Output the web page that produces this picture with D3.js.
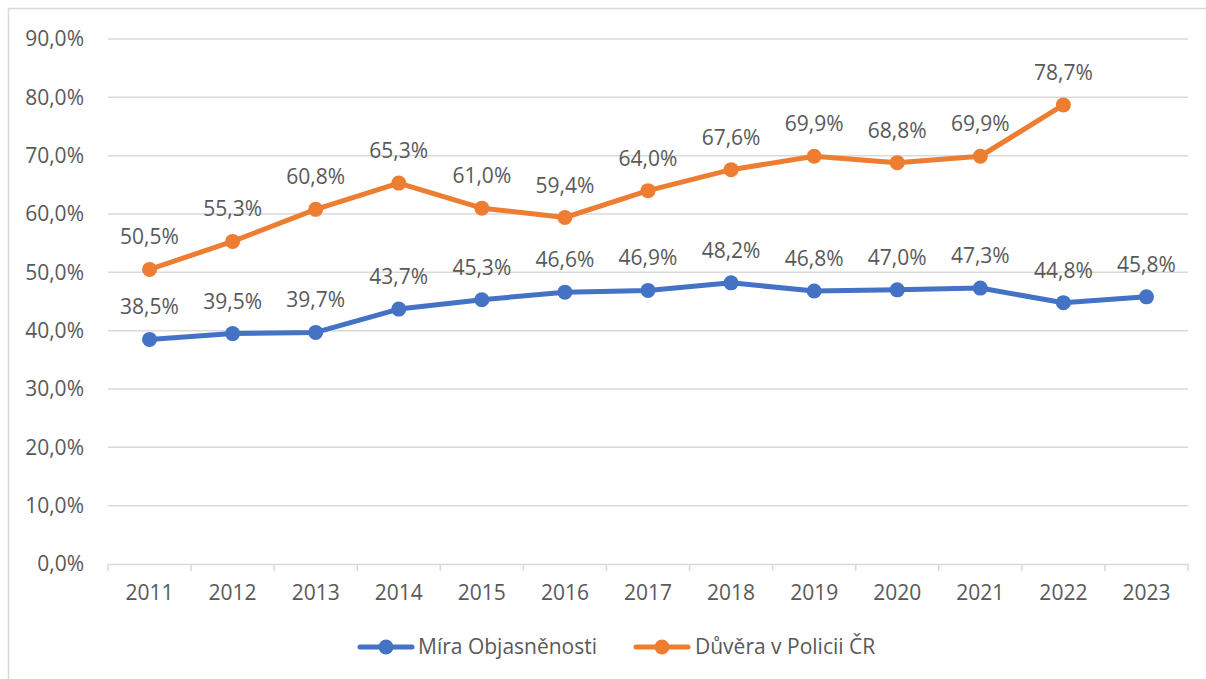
<!DOCTYPE html>
<html><head><meta charset="utf-8">
<script src="https://cdn.jsdelivr.net/npm/d3@7"></script>
<style>body{margin:0;background:#fff}svg{display:block}text{font-family:"Open Sans",sans-serif;fill:#595959}</style>
</head><body><svg id="c" width="1206" height="679"></svg>
<script>
const years = ["2011","2012","2013","2014","2015","2016","2017","2018","2019","2020","2021","2022","2023"];
const miraObjasnenosti = [38.5,39.5,39.7,43.7,45.3,46.6,46.9,48.2,46.8,47.0,47.3,44.8,45.8];
const duveraVPolicii = [50.5,55.3,60.8,65.3,61.0,59.4,64.0,67.6,69.9,68.8,69.9,78.7,null];
const yTicks = [0,10,20,30,40,50,60,70,80,90];
const seriesNames = ["Míra Objasněnosti","Důvěra v Policii ČR"];
const colors = ["#4472C4","#ED7D31"];

const svg = d3.select("#c");
svg.append("rect").attr("x",8.5).attr("y",8.5).attr("width",1210).attr("height",700)
  .attr("fill","none").attr("stroke","#d9d9d9").attr("stroke-width",1.5);

const x = d3.scaleBand().domain(years).range([108,1188]);
const y = d3.scaleLinear().domain([0,90]).range([564,39]);
const fmt = v => v.toFixed(1).replace(".",",") + "%";
const FS = 21;

const g = svg.append("g");
yTicks.forEach(t => {
  if (t>0) g.append("line").attr("x1",108).attr("x2",1188).attr("y1",y(t)).attr("y2",y(t))
    .attr("stroke","#d9d9d9").attr("stroke-width",1.5);
  g.append("text").attr("x",84).attr("y",y(t)).attr("dy","0.35em").attr("text-anchor","end")
    .attr("font-size",FS).text(fmt(t));
});
const xa = svg.append("g").attr("transform","translate(0,564)")
  .call(d3.axisBottom(x).tickSize(0).tickSizeOuter(0));
xa.select(".domain").attr("stroke","#d9d9d9").attr("stroke-width",1.5);
xa.selectAll("text").attr("font-size",FS).attr("dy",0).attr("y",36).attr("font-family","Open Sans").attr("fill","#595959");
const bounds = years.map(d=>x(d)).concat([x.range()[1]]);
bounds.forEach(b => svg.append("line").attr("x1",b).attr("x2",b).attr("y1",564).attr("y2",571)
  .attr("stroke","#d9d9d9").attr("stroke-width",1.5));

const cx = d => x(d) + x.bandwidth()/2;
[miraObjasnenosti, duveraVPolicii].forEach((vals,i) => {
  const data = years.map((yr,j)=>({yr, v: vals[j]})).filter(d=>d.v!=null);
  const line = d3.line().x(d=>cx(d.yr)).y(d=>y(d.v));
  svg.append("path").datum(data).attr("d",line).attr("fill","none")
    .attr("stroke",colors[i]).attr("stroke-width",5).attr("stroke-linejoin","round").attr("stroke-linecap","round");
  svg.selectAll(null).data(data).enter().append("circle")
    .attr("cx",d=>cx(d.yr)).attr("cy",d=>y(d.v)).attr("r",7.5).attr("fill",colors[i]);
  svg.selectAll(null).data(data).enter().append("text")
    .attr("x",d=>cx(d.yr)).attr("y",d=>y(d.v)-25).attr("text-anchor","middle")
    .attr("font-size",FS).text(d=>fmt(d.v));
});

const leg = [{x1:360,x2:412,tx:418},{x1:636,x2:688,tx:695}];
leg.forEach((l,i)=>{
  svg.append("line").attr("x1",l.x1).attr("x2",l.x2).attr("y1",647).attr("y2",647)
    .attr("stroke",colors[i]).attr("stroke-width",5).attr("stroke-linecap","round");
  svg.append("circle").attr("cx",(l.x1+l.x2)/2).attr("cy",647).attr("r",7.5).attr("fill",colors[i]);
  svg.append("text").attr("x",l.tx).attr("y",647).attr("dy","0.35em").attr("font-size",21).text(seriesNames[i]);
});
</script></body></html>
